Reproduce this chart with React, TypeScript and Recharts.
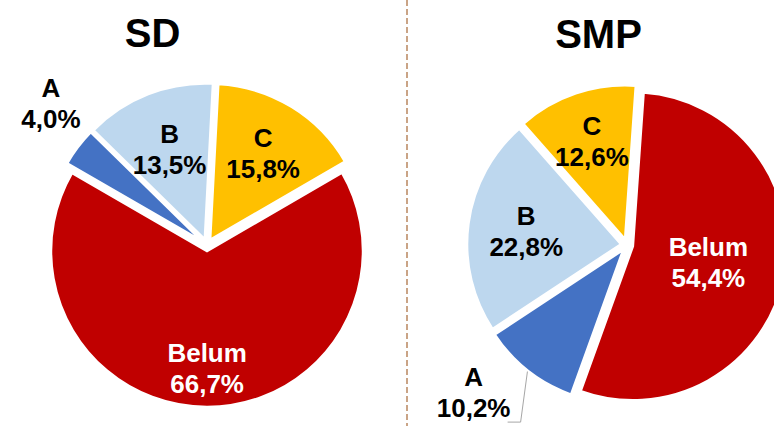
import React from "react";
import { PieChart, Pie, Cell, Sector } from "recharts";

// values in %
const categories = ["A", "B", "C", "Belum"];
const sdValues = [4.0, 13.5, 15.8, 66.7];
const smpValues = [10.2, 22.8, 12.6, 54.4];

// clockwise slice order as drawn
const sdOrder = ["C", "Belum", "A", "B"];
const smpOrder = ["Belum", "A", "B", "C"];

const colors: Record<string, string> = {
  A: "#4472C4",
  B: "#BDD7EE",
  C: "#FFC000",
  Belum: "#C00000",
};

const FONT = '"Liberation Sans", Arial, sans-serif';
const RAD = Math.PI / 180;
const EXPLODE = 6;

const buildData = (values: number[], order: string[]) =>
  order.map((name) => ({ name, value: values[categories.indexOf(name)] }));

const sdData = buildData(sdValues, sdOrder);
const smpData = buildData(smpValues, smpOrder);

type LabelPos = { r: number; da?: number; leader?: boolean };

const sdLabels: Record<string, LabelPos> = {
  C: { r: 0.69 },
  B: { r: 0.66 },
  Belum: { r: 0.79 },
  A: { r: 1.35, da: 5 },
};

const smpLabels: Record<string, LabelPos> = {
  C: { r: 0.71 },
  B: { r: 0.66 },
  Belum: { r: 0.54 },
  A: { r: 1.38, da: 8, leader: true },
};

const fmt = (v: number) => v.toFixed(1).replace(".", ",") + "%";

const explodedShape = (props: any) => {
  const { cx, cy, startAngle, endAngle } = props;
  const mid = props.midAngle ?? (startAngle + endAngle) / 2;
  const dx = EXPLODE * Math.cos(-mid * RAD);
  const dy = EXPLODE * Math.sin(-mid * RAD);
  return <Sector {...props} cx={cx + dx} cy={cy + dy} />;
};

const makeLabel = (layout: Record<string, LabelPos>) => (props: any) => {
  const { cx, cy, midAngle, outerRadius, payload, name, value } = props;
  const key = payload?.name ?? name;
  const val = payload?.value ?? value;
  const pos = layout[key];
  const ang = midAngle - (pos.da ?? 0);
  const lx = cx + outerRadius * pos.r * Math.cos(-ang * RAD);
  const ly = cy + outerRadius * pos.r * Math.sin(-ang * RAD);
  const fill = key === "Belum" ? "#FFFFFF" : "#000000";
  let leader = null;
  if (pos.leader) {
    const sr = outerRadius + EXPLODE + 1;
    const sx = cx + sr * Math.cos(-midAngle * RAD);
    const sy = cy + sr * Math.sin(-midAngle * RAD);
    leader = (
      <polyline
        points={`${sx},${sy} ${lx + 47},${ly + 30} ${lx + 34},${ly + 30}`}
        fill="none"
        stroke="#A6A6A6"
        strokeWidth={1}
      />
    );
  }
  return (
    <g>
      {leader}
      <text x={lx} y={ly - 6.5} textAnchor="middle" fill={fill} fontFamily={FONT} fontWeight="bold" fontSize={26}>
        {key}
      </text>
      <text x={lx} y={ly + 24.5} textAnchor="middle" fill={fill} fontFamily={FONT} fontWeight="bold" fontSize={26}>
        {fmt(val)}
      </text>
    </g>
  );
};

const pieCommon = {
  dataKey: "value",
  nameKey: "name",
  stroke: "#FFFFFF",
  strokeWidth: 2.5,
  labelLine: false,
  isAnimationActive: false,
};

export default function App() {
  return (
    <div style={{ position: "absolute", left: 0, top: 0, width: 774, height: 426, background: "#fff" }}>
      <PieChart width={774} height={426} margin={{ top: 0, right: 0, bottom: 0, left: 0 }}>
        <Pie
          {...pieCommon}
          data={sdData}
          cx={207}
          cy={245}
          outerRadius={156}
          startAngle={87}
          endAngle={-273}
          shape={explodedShape}
          inactiveShape={explodedShape}
          activeShape={explodedShape}
          label={makeLabel(sdLabels)}
        >
          {sdData.map((d) => (
            <Cell key={d.name} fill={colors[d.name]} />
          ))}
        </Pie>
        <Pie
          {...pieCommon}
          data={smpData}
          cx={627}
          cy={245}
          outerRadius={154}
          startAngle={86}
          endAngle={-274}
          shape={explodedShape}
          inactiveShape={explodedShape}
          activeShape={explodedShape}
          label={makeLabel(smpLabels)}
        >
          {smpData.map((d) => (
            <Cell key={d.name} fill={colors[d.name]} />
          ))}
        </Pie>
      </PieChart>
      <svg
        width={774}
        height={426}
        style={{ position: "absolute", left: 0, top: 0, pointerEvents: "none" }}
      >
        <line x1={407} y1={0} x2={407} y2={426} stroke="#B9875F" strokeWidth={1.5} strokeDasharray="6 3" />
        <text x={152.5} y={47} textAnchor="middle" fontFamily={FONT} fontWeight="bold" fontSize={40} fill="#000">
          SD
        </text>
        <text x={598.5} y={48} textAnchor="middle" fontFamily={FONT} fontWeight="bold" fontSize={40} fill="#000">
          SMP
        </text>
      </svg>
    </div>
  );
}
